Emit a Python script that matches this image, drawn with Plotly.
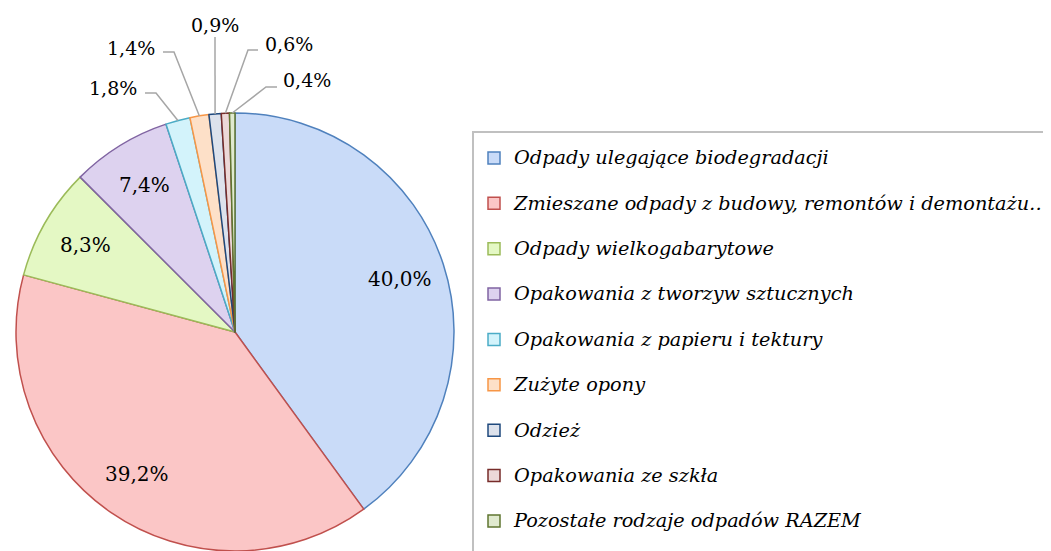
import math
import plotly.graph_objects as go

categories = [
    "Odpady ulegające biodegradacji",
    "Zmieszane odpady z budowy, remontów i demontażu…",
    "Odpady wielkogabarytowe",
    "Opakowania z tworzyw sztucznych",
    "Opakowania z papieru i tektury",
    "Zużyte opony",
    "Odzież",
    "Opakowania ze szkła",
    "Pozostałe rodzaje odpadów RAZEM",
]
values = [40.0, 39.2, 8.3, 7.4, 1.8, 1.4, 0.9, 0.6, 0.4]

fills = ["#c9dbf8", "#fbc6c6", "#e4f8c4", "#ddd2ef", "#d3f3fb", "#fde0c8",
         "#dde2ec", "#ecd8d8", "#e0eacf"]
borders = ["#4f81bd", "#c0504d", "#9bbb59", "#8064a2", "#4bacc6", "#f79646",
           "#1f497d", "#772c2a", "#5f7530"]

W, H = 1051, 551
OFF = 8  # page body margin shifts the figure on screen

# pie geometry in screen pixels
CX, CY, R = 235, 332, 219
# label placement (screen px): inside labels radius factor, outside label boxes
INSIDE_K = 0.79
outside_text = [(113, 88), (131, 48), (215, 25), (289, 44), (307, 80)]
outside_start = [(145, 93), (163, 52), (215, 37), (258, 50), (277, 87)]
outside_elbow = [(156, 93), (174, 52), (215, 37), (248, 50), (266, 87)]


def px(sx):
    return (sx - OFF) / W


def py(sy):
    return 1 - (sy - OFF) / H


domain = dict(x=[px(CX - R), px(CX + R)],
              y=[max(0.0, py(CY + R)), py(CY - R)])

legend_labels = [f"<span style='font-size:19.3px'>{c}</span><br> " for c in categories]

fig = go.Figure(go.Pie(
    labels=legend_labels,
    values=values,
    sort=False,
    direction="clockwise",
    rotation=0,
    marker=dict(colors=fills, line=dict(color=borders, width=1.5)),
    textinfo="none",
    domain=domain,
    hoverinfo="skip",
))

total = sum(values)
cum = 0.0
mids = []
for v in values:
    mids.append((cum + v / 2) / total * 2 * math.pi)
    cum += v


def fmt(v):
    return f"{v / total * 100:.1f}".replace(".", ",") + "%"


annotations = []
shapes = []
n_inside = len(values) - len(outside_text)
for i, v in enumerate(values):
    a = mids[i]
    if i < n_inside:
        sx = CX + INSIDE_K * R * math.sin(a)
        sy = CY - INSIDE_K * R * math.cos(a)
        annotations.append(dict(x=px(sx), y=py(sy), xref="paper", yref="paper",
                                xanchor="center", yanchor="middle",
                                text=fmt(v), showarrow=False,
                                font=dict(family="DejaVu Serif", size=20, color="black")))
    else:
        j = i - n_inside
        ax = CX + R * math.sin(a)
        ay = CY - R * math.cos(a)
        tx, ty = outside_text[j]
        annotations.append(dict(x=px(tx), y=py(ty), xref="paper", yref="paper",
                                xanchor="center", yanchor="middle",
                                text=fmt(v), showarrow=False,
                                font=dict(family="DejaVu Serif", size=19, color="black")))
        s, e = outside_start[j], outside_elbow[j]
        path = (f"M{px(s[0])},{py(s[1])} L{px(e[0])},{py(e[1])} "
                f"L{px(ax)},{py(ay)}")
        shapes.append(dict(type="path", path=path, xref="paper", yref="paper",
                           line=dict(color="#a6a6a6", width=1.5)))

fig.update_layout(
    width=W, height=H,
    margin=dict(l=0, r=0, t=0, b=0, autoexpand=False),
    paper_bgcolor="white",
    showlegend=True,
    annotations=annotations,
    shapes=shapes,
    legend=dict(
        x=px(472), y=py(131), xanchor="left", yanchor="top",
        font=dict(family="DejaVu Serif", size=16.3, color="black", style="italic"),
        bordercolor="#c0c0c0", borderwidth=2,
        valign="top",
        bgcolor="white",
        title=dict(text=" ", font=dict(size=6)),
    ),
)

fig.write_html("out.html")
